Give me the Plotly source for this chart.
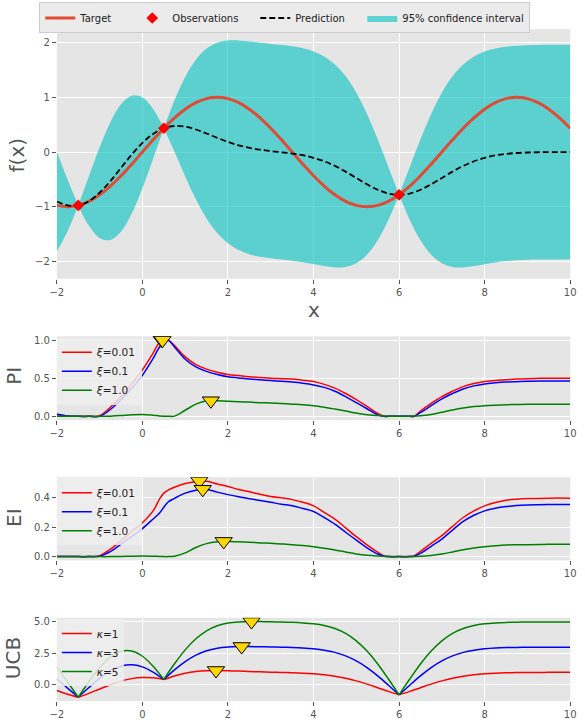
import plotly.graph_objects as go

# ---------------- data ----------------
x_grid = [-2.0, -1.75, -1.5, -1.25, -1.0, -0.75, -0.5, -0.25, 0.0, 0.25, 0.5, 0.75, 1.0,
          1.25, 1.5, 1.75, 2.0, 2.25, 2.5, 2.75, 3.0, 3.25, 3.5, 3.75, 4.0, 4.25, 4.5,
          4.75, 5.0, 5.25, 5.5, 5.75, 6.0, 6.25, 6.5, 6.75, 7.0, 7.25, 7.5, 7.75, 8.0,
          8.25, 8.5, 8.75, 9.0, 9.25, 9.5, 9.75, 10.0]

target = [-0.975, -1.0, -0.975, -0.901, -0.782, -0.623, -0.434, -0.2225, 0.0, 0.2225, 0.434,
          0.623, 0.782, 0.901, 0.975, 1.0, 0.975, 0.901, 0.782, 0.623, 0.434, 0.2225, 0.0,
          -0.2225, -0.434, -0.623, -0.782, -0.901, -0.975, -1.0, -0.975, -0.901, -0.782,
          -0.623, -0.434, -0.2225, 0.0, 0.2225, 0.434, 0.623, 0.782, 0.901, 0.975, 1.0,
          0.975, 0.901, 0.782, 0.623, 0.434]

pred_mean = [-0.904, -0.975, -0.975, -0.896, -0.742, -0.531, -0.289, -0.047, 0.167, 0.331,
             0.434, 0.475, 0.463, 0.411, 0.338, 0.259, 0.185, 0.123, 0.076, 0.042, 0.017,
             -0.005, -0.028, -0.059, -0.105, -0.169, -0.254, -0.358, -0.474, -0.590, -0.690,
             -0.758, -0.782, -0.758, -0.690, -0.590, -0.474, -0.358, -0.254, -0.169, -0.106,
             -0.062, -0.034, -0.018, -0.009, -0.004, -0.002, -0.001, 0.0]

ci_upper = [0.005, -0.503, -0.975, -0.443, 0.085, 0.545, 0.873, 1.029, 0.994, 0.784, 0.434,
            0.947, 1.372, 1.687, 1.890, 1.997, 2.037, 2.036, 2.018, 1.996, 1.975, 1.954,
            1.930, 1.895, 1.838, 1.745, 1.600, 1.384, 1.084, 0.696, 0.232, -0.275, -0.782,
            -0.275, 0.232, 0.696, 1.084, 1.384, 1.600, 1.745, 1.836, 1.892, 1.924, 1.941,
            1.951, 1.956, 1.958, 1.959, 1.960]

ci_lower = [-1.813, -1.447, -0.975, -1.349, -1.569, -1.607, -1.451, -1.123, -0.660, -0.122,
            0.434, 0.003, -0.447, -0.865, -1.214, -1.480, -1.667, -1.790, -1.866, -1.912,
            -1.941, -1.964, -1.986, -2.013, -2.047, -2.083, -2.108, -2.100, -2.032, -1.876,
            -1.612, -1.241, -0.782, -1.241, -1.612, -1.876, -2.032, -2.100, -2.108, -2.083,
            -2.048, -2.016, -1.992, -1.977, -1.969, -1.964, -1.962, -1.961, -1.960]

x_obs = [-1.5, 0.5, 6.0]
y_obs = [-0.975, 0.434, -0.782]

x_acq = [-2.0, -1.75, -1.5, -1.25, -1.0, -0.75, -0.5, -0.25, 0.0, 0.25, 0.4, 0.5, 0.6, 0.75,
         1.0, 1.25, 1.5, 1.75, 2.0, 2.25, 2.5, 2.75, 3.0, 3.25, 3.5, 3.75, 4.0, 4.25, 4.5,
         4.75, 5.0, 5.25, 5.5, 5.65, 5.75, 6.0, 6.25, 6.35, 6.5, 6.75, 7.0, 7.25, 7.5, 7.75,
         8.0, 8.25, 8.5, 8.75, 9.0, 9.5, 10.0]

pi_xi001 = [0.02, 0.005, 0.0, 0.0, 0.01, 0.12, 0.26, 0.43, 0.61, 0.83, 0.97, 0.995, 1.0, 0.93,
            0.78, 0.68, 0.62, 0.58, 0.55, 0.535, 0.52, 0.51, 0.50, 0.495, 0.49, 0.475, 0.457,
            0.42, 0.37, 0.30, 0.22, 0.13, 0.04, 0.0, 0.0, 0.0, 0.0, 0.0, 0.07, 0.17, 0.26,
            0.33, 0.39, 0.43, 0.457, 0.47, 0.48, 0.49, 0.495, 0.5, 0.5]
pi_xi01 = [0.03, 0.005, 0.0, 0.0, 0.0, 0.09, 0.22, 0.37, 0.54, 0.76, 0.91, 0.97, 1.0, 0.91,
           0.75, 0.65, 0.59, 0.55, 0.52, 0.505, 0.49, 0.48, 0.47, 0.46, 0.45, 0.435, 0.413,
           0.38, 0.33, 0.26, 0.18, 0.10, 0.02, 0.0, 0.0, 0.0, 0.0, 0.0, 0.05, 0.14, 0.23,
           0.30, 0.36, 0.40, 0.426, 0.44, 0.45, 0.455, 0.46, 0.465, 0.465]
pi_xi1 = [0.0, 0.0, 0.0, 0.0, 0.0, 0.003, 0.01, 0.02, 0.025, 0.015, 0.006, 0.003, 0.002, 0.003,
          0.08, 0.16, 0.205, 0.205, 0.198, 0.193, 0.187, 0.18, 0.175, 0.168, 0.16, 0.152, 0.14,
          0.12, 0.096, 0.07, 0.043, 0.02, 0.01, 0.005, 0.003, 0.0, 0.003, 0.005, 0.008, 0.025,
          0.055, 0.085, 0.11, 0.128, 0.14, 0.147, 0.152, 0.156, 0.158, 0.16, 0.16]

ei_xi001 = [0.0, 0.0, 0.0, 0.0, 0.007, 0.05, 0.108, 0.17, 0.23, 0.31, 0.39, 0.43, 0.45, 0.47,
            0.495, 0.508, 0.51, 0.492, 0.475, 0.455, 0.44, 0.422, 0.408, 0.398, 0.386, 0.368,
            0.344, 0.30, 0.254, 0.195, 0.135, 0.08, 0.03, 0.005, 0.0, 0.0, 0.0, 0.005, 0.036,
            0.09, 0.142, 0.205, 0.265, 0.31, 0.344, 0.366, 0.382, 0.389, 0.393, 0.396, 0.396]
ei_xi01 = [0.0, 0.0, 0.0, 0.0, 0.003, 0.034, 0.085, 0.137, 0.19, 0.255, 0.295, 0.335, 0.37,
           0.395, 0.43, 0.45, 0.455, 0.437, 0.42, 0.405, 0.392, 0.38, 0.368, 0.355, 0.344,
           0.326, 0.306, 0.265, 0.22, 0.165, 0.112, 0.06, 0.018, 0.003, 0.0, 0.0, 0.0, 0.003,
           0.022, 0.07, 0.119, 0.18, 0.238, 0.28, 0.31, 0.328, 0.339, 0.346, 0.35, 0.353, 0.353]
ei_xi1 = [0.0, 0.0, 0.0, 0.0, 0.0, 0.0, 0.001, 0.003, 0.004, 0.003, 0.001, 0.0, 0.0, 0.002,
          0.025, 0.062, 0.088, 0.1, 0.103, 0.1, 0.097, 0.093, 0.09, 0.086, 0.081, 0.075, 0.067,
          0.057, 0.045, 0.031, 0.018, 0.009, 0.004, 0.002, 0.001, 0.0, 0.001, 0.001, 0.002,
          0.008, 0.018, 0.032, 0.047, 0.058, 0.067, 0.074, 0.079, 0.08, 0.081, 0.083, 0.083]

ucb_k1 = [-0.440, -0.734, -0.975, -0.665, -0.320, 0.018, 0.304, 0.502, 0.589, 0.562, 0.434,
          0.716, 0.927, 1.062, 1.130, 1.146, 1.130, 1.099, 1.067, 1.039, 1.016, 0.995, 0.971,
          0.938, 0.886, 0.807, 0.692, 0.531, 0.321, 0.066, -0.220, -0.512, -0.782, -0.512,
          -0.220, 0.066, 0.321, 0.531, 0.692, 0.807, 0.885, 0.935, 0.965, 0.982, 0.991,
          0.996, 0.998, 0.999, 1.0]
ucb_k3 = [0.488, -0.252, -0.975, -0.203, 0.524, 1.116, 1.490, 1.600, 1.433, 1.024, 0.434,
          1.198, 1.855, 2.364, 2.714, 2.920, 3.020, 3.051, 3.048, 3.032, 3.014, 2.994, 2.969,
          2.931, 2.868, 2.760, 2.583, 2.309, 1.911, 1.378, 0.721, -0.019, -0.782, -0.019,
          0.721, 1.378, 1.911, 2.309, 2.583, 2.760, 2.866, 2.928, 2.963, 2.981, 2.991, 2.996,
          2.998, 2.999, 3.0]
ucb_k5 = [1.416, 0.230, -0.975, 0.259, 1.368, 2.214, 2.676, 2.698, 2.277, 1.486, 0.434,
          1.680, 2.783, 3.666, 4.298, 4.694, 4.910, 5.003, 5.029, 5.026, 5.012, 4.993, 4.967,
          4.925, 4.850, 4.713, 4.475, 4.087, 3.502, 2.690, 1.662, 0.474, -0.782, 0.474,
          1.662, 2.690, 3.502, 4.087, 4.475, 4.713, 4.848, 4.922, 4.961, 4.981, 4.991, 4.996,
          4.998, 4.999, 5.0]

pi_best_x = [0.45, 0.47, 1.6]
pi_best_y = [1.0, 1.0, 0.205]
ei_best_x = [1.33, 1.41, 1.9]
ei_best_y = [0.512, 0.456, 0.103]
ucb_best_x = [1.72, 2.32, 2.55]
ucb_best_y = [1.146, 3.052, 5.03]

xi_labels = ["<i>ξ</i>=0.01", "<i>ξ</i>=0.1", "<i>ξ</i>=1.0"]
kappa_labels = ["<i>κ</i>=1", "<i>κ</i>=3", "<i>κ</i>=5"]
x_ticks = [-2, 0, 2, 4, 6, 8, 10]

# ---------------- styling ----------------
W, H = 585, 724
FONT = "DejaVu Sans"
TICK = "#555555"
BAND = "rgba(0,191,191,0.6)"
ACQ_COLORS = ["#FF0000", "#0000FF", "#008000"]


def py(p):
    return 1 - p / H


fig = go.Figure()

# split at observation points so the band/UCB pinch with sharp corners
cut = [x_grid.index(v) for v in x_obs]
bounds = [0] + cut + [len(x_grid) - 1]
segs = [(bounds[i], bounds[i + 1]) for i in range(len(bounds) - 1)]

for k, (i0, i1) in enumerate(segs):
    fig.add_trace(go.Scatter(x=x_grid[i0:i1 + 1], y=ci_lower[i0:i1 + 1], mode="lines",
                             line=dict(width=0, shape="spline"), showlegend=False,
                             hoverinfo="skip", xaxis="x", yaxis="y"))
    fig.add_trace(go.Scatter(x=x_grid[i0:i1 + 1], y=ci_upper[i0:i1 + 1], mode="lines",
                             line=dict(width=0, shape="spline"), fill="tonexty",
                             fillcolor=BAND, name="95% confidence interval",
                             legendgroup="ci", showlegend=(k == 0), legendrank=4,
                             xaxis="x", yaxis="y"))

fig.add_trace(go.Scatter(x=x_grid, y=target, mode="lines", name="Target",
                         line=dict(color="#E24A33", width=3, shape="spline"),
                         legendrank=1, legendwidth=47, xaxis="x", yaxis="y"))
fig.add_trace(go.Scatter(x=x_grid, y=pred_mean, mode="lines", name="Prediction",
                         line=dict(color="black", width=1.8, dash="6px,3px", shape="spline"),
                         legendrank=3, legendwidth=62, xaxis="x", yaxis="y"))
fig.add_trace(go.Scatter(x=x_obs, y=y_obs, mode="markers", name="Observations",
                         marker=dict(symbol="diamond", color="#FF0000", size=9),
                         legendrank=2, legendwidth=78, xaxis="x", yaxis="y"))


def acq_panel(xs, series, labels, best_x, best_y, ax, leg, split=False):
    for j, (ys, lab) in enumerate(zip(series, labels)):
        pieces = segs if split else [(0, len(xs) - 1)]
        for k, (i0, i1) in enumerate(pieces):
            fig.add_trace(go.Scatter(x=xs[i0:i1 + 1], y=ys[i0:i1 + 1], mode="lines",
                                     name=lab, legendgroup=leg + lab,
                                     showlegend=(k == 0), legend=leg,
                                     line=dict(color=ACQ_COLORS[j], width=1.5, shape="spline"),
                                     xaxis="x" + ax, yaxis="y" + ax))
    for j in range(len(best_x)):
        fig.add_trace(go.Scatter(x=[best_x[j]], y=[best_y[j]], mode="markers",
                                 showlegend=False, legend=leg,
                                 marker=dict(symbol="triangle-down", size=15, color="#FFD700",
                                             line=dict(color="black", width=1)),
                                 xaxis="x" + ax, yaxis="y" + ax))


acq_panel(x_acq, [pi_xi001, pi_xi01, pi_xi1], xi_labels, pi_best_x, pi_best_y, "2", "legend2")
acq_panel(x_acq, [ei_xi001, ei_xi01, ei_xi1], xi_labels, ei_best_x, ei_best_y, "3", "legend3")
acq_panel(x_grid, [ucb_k1, ucb_k3, ucb_k5], kappa_labels, ucb_best_x, ucb_best_y, "4",
          "legend4", split=True)

xdom = [51 / W, 576 / W]
panels = {
    "": dict(top=27.3, bot=278.3, rng=[-2.315, 2.244], tv=[-2, -1, 0, 1, 2], fmt="d"),
    "2": dict(top=336.2, bot=420.5, rng=[-0.05, 1.05], tv=[0.0, 0.5, 1.0], fmt=".1f"),
    "3": dict(top=477.9, bot=561.5, rng=[-0.0256, 0.5376], tv=[0.0, 0.2, 0.4], fmt=".1f"),
    "4": dict(top=619.2, bot=702.9, rng=[-1.275, 5.33], tv=[0.0, 2.5, 5.0], fmt=".1f"),
}

common = dict(showgrid=True, gridcolor="white", gridwidth=1, zeroline=False,
              showline=False, ticks="outside", ticklen=4, tickwidth=1, tickcolor=TICK,
              tickfont=dict(family=FONT, size=10, color=TICK))

layout = dict(width=W, height=H, margin=dict(l=0, r=0, t=0, b=0),
              paper_bgcolor="white", plot_bgcolor="#E5E5E5",
              font=dict(family=FONT, color="#222222"), hovermode=False)

for key, p in panels.items():
    n = key if key else ""
    layout["xaxis" + n] = dict(common, domain=xdom, range=[-2, 10], tickvals=x_ticks,
                               anchor="y" + n)
    layout["yaxis" + n] = dict(common, domain=[py(p["bot"]), py(p["top"])], range=p["rng"],
                               tickvals=p["tv"], tickformat=p["fmt"], anchor="x" + n)

layout["legend"] = dict(orientation="h", x=33 / W, y=py(0.5), xanchor="left", yanchor="top",
                        bgcolor="#EBEBEB", bordercolor="#CCCCCC", borderwidth=1,
                        font=dict(family=FONT, size=10, color="#222222"),
                        traceorder="normal")
for leg, top in [("legend2", 337.5), ("legend3", 479), ("legend4", 620.5)]:
    layout[leg] = dict(x=51 / W, y=py(top), xanchor="left", yanchor="top",
                       bgcolor="rgba(238,238,238,0.85)", borderwidth=0,
                       font=dict(family=FONT, size=10.5, color="#222222"),
                       tracegroupgap=0, traceorder="normal")

ann = []
for txt, cx, cy in [("f(x)", 10, 154.5), ("PI", 7, 376), ("EI", 7, 518),
                    ("UCB", 7, 660.0)]:
    ann.append(dict(text=txt, x=cx / W, y=py(cy), xref="paper", yref="paper",
                    xanchor="center", yanchor="middle", textangle=-90, showarrow=False,
                    font=dict(family=FONT, size=20, color=TICK)))
ann.append(dict(text="x", x=313.5 / W, y=py(310), xref="paper", yref="paper",
                xanchor="center", yanchor="middle", showarrow=False,
                font=dict(family=FONT, size=20, color=TICK)))
layout["annotations"] = ann

fig.update_layout(**layout)
fig.write_html("out.html")
